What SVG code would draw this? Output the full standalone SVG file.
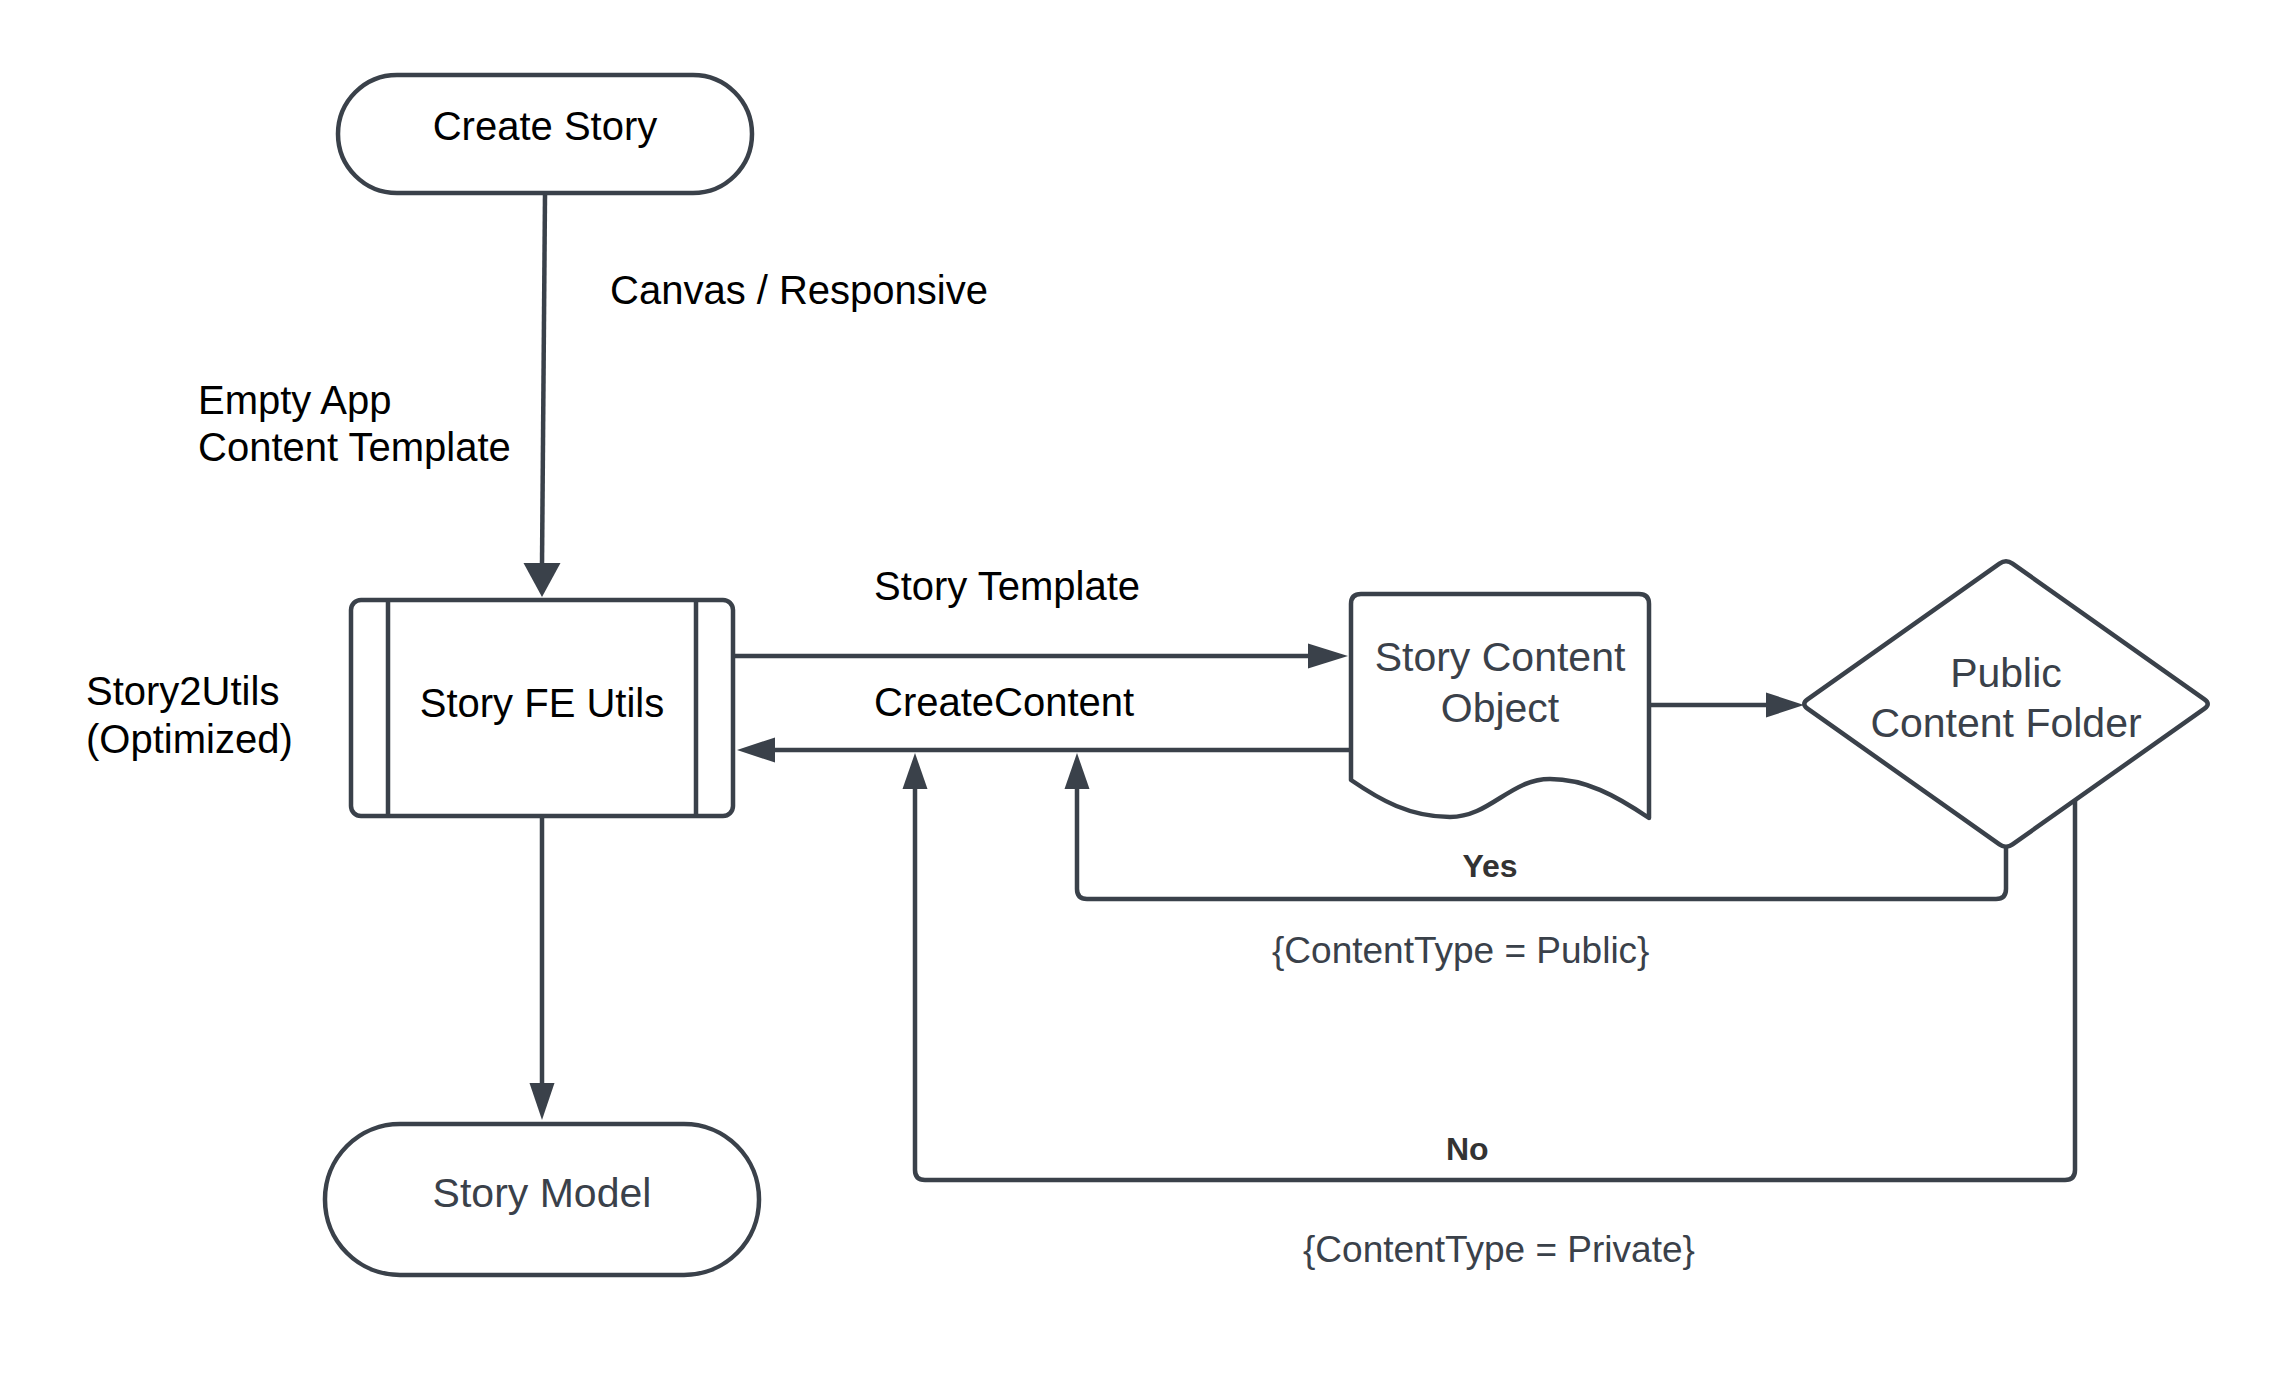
<svg xmlns="http://www.w3.org/2000/svg" width="2288" height="1388" viewBox="0 0 2288 1388">
<style>
.shape{fill:#ffffff;stroke:#3a414a;stroke-width:4.5;stroke-linejoin:round}
.conn{fill:none;stroke:#3a414a;stroke-width:4.5;stroke-linejoin:round}
.head{fill:#3a414a;stroke:none}
.t{font-family:"Liberation Sans",Arial,sans-serif;font-size:40px;fill:#000000}
.g{font-family:"Liberation Sans",Arial,sans-serif;font-size:41px;fill:#3a414a}
.c{font-family:"Liberation Sans",Arial,sans-serif;font-size:37px;fill:#3a414a}
.b{font-family:"Liberation Sans",Arial,sans-serif;font-size:32px;font-weight:bold;fill:#333333}
.m{text-anchor:middle}
</style>
<rect width="2288" height="1388" fill="#ffffff"/>
<g id="connectors">
  <line class="conn" x1="545" y1="195" x2="542" y2="565"/>
  <polygon class="head" points="542,597 523.5,563 560.5,563"/>
  <line class="conn" x1="735" y1="656" x2="1310" y2="656"/>
  <polygon class="head" points="1348,656 1308,643.5 1308,668.5"/>
  <line class="conn" x1="1349" y1="750" x2="773" y2="750"/>
  <polygon class="head" points="737,750 775,737.5 775,762.5"/>
  <line class="conn" x1="1651" y1="705" x2="1768" y2="705"/>
  <polygon class="head" points="1804,705 1766,692.5 1766,717.5"/>
  <path class="conn" d="M2006,847 L2006,889 Q2006,899 1996,899 L1087,899 Q1077,899 1077,889 L1077,787"/>
  <polygon class="head" points="1077,753 1064.5,789 1089.5,789"/>
  <path class="conn" d="M2075,800 L2075,1170 Q2075,1180 2065,1180 L925,1180 Q915,1180 915,1170 L915,787"/>
  <polygon class="head" points="915,753 902.5,789 927.5,789"/>
  <line class="conn" x1="542" y1="818" x2="542" y2="1085"/>
  <polygon class="head" points="542,1120 529.5,1083 554.5,1083"/>
</g>
<g id="labels">
  <text class="t" x="610" y="304">Canvas / Responsive</text>
  <text class="t" x="198" y="414">Empty App</text>
  <text class="t" x="198" y="461">Content Template</text>
  <text class="t" x="86" y="705">Story2Utils</text>
  <text class="t" x="86" y="753">(Optimized)</text>
  <text class="t" x="874" y="600">Story Template</text>
  <text class="t" x="874" y="716">CreateContent</text>
  <text class="b m" x="1490" y="877">Yes</text>
  <text class="c" x="1272" y="963">{ContentType = Public}</text>
  <text class="b" x="1446" y="1160">No</text>
  <text class="c" x="1303" y="1262">{ContentType = Private}</text>
</g>
<g id="create-story">
  <rect class="shape" x="338" y="75" width="414" height="118" rx="59" ry="59"/>
  <text class="t m" x="545" y="140">Create Story</text>
</g>
<g id="story-fe-utils">
  <rect class="shape" x="351" y="600" width="382" height="216" rx="10" ry="10"/>
  <line class="conn" x1="388" y1="600" x2="388" y2="816"/>
  <line class="conn" x1="696" y1="600" x2="696" y2="816"/>
  <text class="t m" x="542" y="717">Story FE Utils</text>
</g>
<g id="story-content-object">
  <path class="shape" d="M1351,604 Q1351,594 1361,594 L1639,594 Q1649,594 1649,604 L1649,818 C1615,795 1585,779 1550,779 C1510,779 1490,817 1450,817 C1410,817 1380,800 1351,780 Z"/>
  <text class="g m" x="1500" y="671">Story Content</text>
  <text class="g m" x="1500" y="722">Object</text>
</g>
<g id="public-content-folder">
  <path class="shape" d="M1999.47,563.62 Q2006,559 2012.53,563.62 L2204.47,699.38 Q2211,704 2204.47,708.62 L2012.53,844.38 Q2006,849 1999.47,844.38 L1807.53,708.62 Q1801,704 1807.53,699.38 Z"/>
  <text class="g m" x="2006" y="687">Public</text>
  <text class="g m" x="2006" y="737">Content Folder</text>
</g>
<g id="story-model">
  <rect class="shape" x="325" y="1124" width="434" height="151" rx="75" ry="75"/>
  <text class="g m" x="542" y="1207">Story Model</text>
</g>
</svg>
